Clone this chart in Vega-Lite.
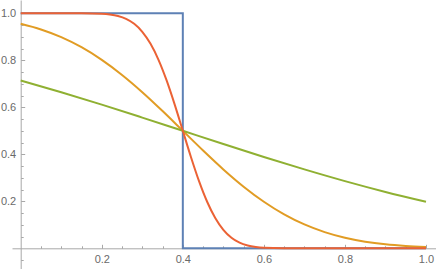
{
  "$schema": "https://vega.github.io/schema/vega-lite/v6.json",
  "width": 424,
  "height": 269,
  "autosize": {"type": "none"},
  "padding": {"left": 12, "top": 0, "right": 0, "bottom": 0},
  "background": "white",
  "config": {
    "view": {"stroke": null},
    "axis": {
      "grid": false,
      "title": null,
      "domainColor": "#a8a8a8",
      "domainWidth": 1,
      "tickColor": "#a8a8a8",
      "tickWidth": 1,
      "labelColor": "#6a6a6a",
      "labelFont": "Liberation Sans",
      "labelFontSize": 11,
      "labelOverlap": false,
      "labelFlush": false,
      "labelBound": false
    }
  },
  "data": {
    "values": [
      {"s": "step", "i": 0, "x": 0.0, "y": 1.0},
      {"s": "step", "i": 1, "x": 0.4, "y": 1.0},
      {"s": "step", "i": 2, "x": 0.4, "y": 0.0},
      {"s": "step", "i": 3, "x": 1.0, "y": 0.0},

      {"s": "third", "i": 0, "x": 0.0, "y": 0.9552},
      {"s": "third", "i": 1, "x": 0.05, "y": 0.9312},
      {"s": "third", "i": 2, "x": 0.1, "y": 0.8985},
      {"s": "third", "i": 3, "x": 0.15, "y": 0.8556},
      {"s": "third", "i": 4, "x": 0.2, "y": 0.8019},
      {"s": "third", "i": 5, "x": 0.25, "y": 0.7377},
      {"s": "third", "i": 6, "x": 0.3, "y": 0.6643},
      {"s": "third", "i": 7, "x": 0.35, "y": 0.584},
      {"s": "third", "i": 8, "x": 0.4, "y": 0.5},
      {"s": "third", "i": 9, "x": 0.45, "y": 0.416},
      {"s": "third", "i": 10, "x": 0.5, "y": 0.3357},
      {"s": "third", "i": 11, "x": 0.55, "y": 0.2623},
      {"s": "third", "i": 12, "x": 0.6, "y": 0.1981},
      {"s": "third", "i": 13, "x": 0.65, "y": 0.1444},
      {"s": "third", "i": 14, "x": 0.7, "y": 0.1015},
      {"s": "third", "i": 15, "x": 0.75, "y": 0.0688},
      {"s": "third", "i": 16, "x": 0.8, "y": 0.0448},
      {"s": "third", "i": 17, "x": 0.85, "y": 0.0281},
      {"s": "third", "i": 18, "x": 0.9, "y": 0.0169},
      {"s": "third", "i": 19, "x": 0.95, "y": 0.0098},
      {"s": "third", "i": 20, "x": 1.0, "y": 0.0055},

      {"s": "one", "i": 0, "x": 0.0, "y": 0.7142},
      {"s": "one", "i": 1, "x": 0.1, "y": 0.6643},
      {"s": "one", "i": 2, "x": 0.2, "y": 0.6114},
      {"s": "one", "i": 3, "x": 0.3, "y": 0.5562},
      {"s": "one", "i": 4, "x": 0.4, "y": 0.5},
      {"s": "one", "i": 5, "x": 0.5, "y": 0.4438},
      {"s": "one", "i": 6, "x": 0.6, "y": 0.3886},
      {"s": "one", "i": 7, "x": 0.7, "y": 0.3357},
      {"s": "one", "i": 8, "x": 0.8, "y": 0.2858},
      {"s": "one", "i": 9, "x": 0.9, "y": 0.2398},
      {"s": "one", "i": 10, "x": 1.0, "y": 0.1981},

      {"s": "tenth", "i": 0, "x": 0.0, "y": 1.0},
      {"s": "tenth", "i": 1, "x": 0.1, "y": 1.0},
      {"s": "tenth", "i": 2, "x": 0.15, "y": 0.9998},
      {"s": "tenth", "i": 3, "x": 0.2, "y": 0.99766},
      {"s": "tenth", "i": 4, "x": 0.22, "y": 0.99455},
      {"s": "tenth", "i": 5, "x": 0.24, "y": 0.98818},
      {"s": "tenth", "i": 6, "x": 0.26, "y": 0.97615},
      {"s": "tenth", "i": 7, "x": 0.28, "y": 0.95516},
      {"s": "tenth", "i": 8, "x": 0.3, "y": 0.92135},
      {"s": "tenth", "i": 9, "x": 0.32, "y": 0.87105},
      {"s": "tenth", "i": 10, "x": 0.34, "y": 0.80193},
      {"s": "tenth", "i": 11, "x": 0.36, "y": 0.7142},
      {"s": "tenth", "i": 12, "x": 0.38, "y": 0.61135},
      {"s": "tenth", "i": 13, "x": 0.4, "y": 0.5},
      {"s": "tenth", "i": 14, "x": 0.42, "y": 0.38865},
      {"s": "tenth", "i": 15, "x": 0.44, "y": 0.2858},
      {"s": "tenth", "i": 16, "x": 0.46, "y": 0.19807},
      {"s": "tenth", "i": 17, "x": 0.48, "y": 0.12895},
      {"s": "tenth", "i": 18, "x": 0.5, "y": 0.07865},
      {"s": "tenth", "i": 19, "x": 0.52, "y": 0.04484},
      {"s": "tenth", "i": 20, "x": 0.54, "y": 0.02385},
      {"s": "tenth", "i": 21, "x": 0.56, "y": 0.01182},
      {"s": "tenth", "i": 22, "x": 0.58, "y": 0.00545},
      {"s": "tenth", "i": 23, "x": 0.6, "y": 0.00234},
      {"s": "tenth", "i": 24, "x": 0.65, "y": 0.0002},
      {"s": "tenth", "i": 25, "x": 0.7, "y": 0.00001},
      {"s": "tenth", "i": 26, "x": 0.8, "y": 0.0},
      {"s": "tenth", "i": 27, "x": 1.0, "y": 0.0}
    ]
  },
  "encoding": {
    "x": {
      "field": "x",
      "type": "quantitative",
      "scale": {"domain": [-0.0215, 1.0247], "nice": false, "zero": false},
      "axis": {
        "orient": "bottom",
        "offset": -20.7,
        "values": [0.05, 0.1, 0.15, 0.2, 0.25, 0.3, 0.35, 0.4, 0.45, 0.5, 0.55, 0.6, 0.65, 0.7, 0.75, 0.8, 0.85, 0.9, 0.95, 1.0],
        "tickSize": {"condition": {"test": "abs(datum.value*5 - round(datum.value*5)) < 0.001", "value": -4}, "value": -2.5},
        "labelPadding": 9,
        "labelExpr": "abs(datum.value*5 - round(datum.value*5)) < 0.001 ? format(datum.value, '.1f') : ''"
      }
    },
    "y": {
      "field": "y",
      "type": "quantitative",
      "scale": {"domain": [-0.0881, 1.0566], "nice": false, "zero": false},
      "axis": {
        "orient": "left",
        "offset": -8.7,
        "values": [-0.05, 0.05, 0.1, 0.15, 0.2, 0.25, 0.3, 0.35, 0.4, 0.45, 0.5, 0.55, 0.6, 0.65, 0.7, 0.75, 0.8, 0.85, 0.9, 0.95, 1.0],
        "tickSize": {"condition": {"test": "abs(datum.value*5 - round(datum.value*5)) < 0.001", "value": -4}, "value": -2.5},
        "labelPadding": 9,
        "labelExpr": "abs(datum.value*5 - round(datum.value*5)) < 0.001 && datum.value > 0.01 ? format(datum.value, '.1f') : ''"
      }
    },
    "color": {
      "field": "s",
      "type": "nominal",
      "scale": {"domain": ["step", "third", "one", "tenth"], "range": ["#5E81B5", "#E19C24", "#8FB032", "#EB6235"]},
      "legend": null
    },
    "order": {"field": "i", "type": "quantitative"}
  },
  "layer": [
    {
      "transform": [{"filter": "datum.s == 'step'"}],
      "mark": {"type": "line", "strokeWidth": 2}
    },
    {
      "transform": [{"filter": "datum.s != 'step'"}],
      "mark": {"type": "line", "strokeWidth": 2, "interpolate": "monotone"}
    }
  ]
}
